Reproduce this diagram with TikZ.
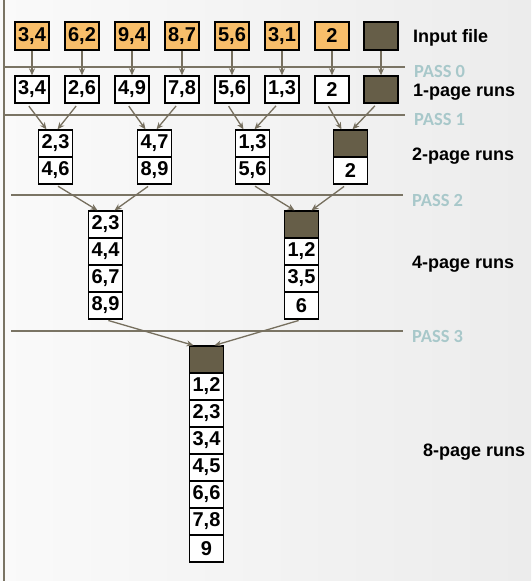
\documentclass[tikz,border=0pt]{standalone}
\usepackage{fontspec}
\setmainfont{Liberation Sans}
\newfontfamily\passfont{Carlito}
\usetikzlibrary{arrows.meta}
\definecolor{orangefill}{HTML}{F8BE6A}
\definecolor{darkfill}{HTML}{665E48}
\definecolor{arrowcol}{HTML}{766F5E}
\definecolor{linecol}{HTML}{7A7464}
\definecolor{passcol}{HTML}{A8C8CA}
\tikzset{
  cell/.style={draw=black, line width=1.3pt, minimum width=34pt, minimum height=27pt, inner sep=0pt, fill=white,
    font=\fontsize{20}{20}\selectfont\bfseries},
  incell/.style={cell, minimum height=28pt, fill=orangefill},
  darkcell/.style={cell, fill=darkfill},
  arr/.style={draw=arrowcol, line width=1.3pt, -{Stealth[length=7pt,width=6pt]}},
  passline/.style={draw=linecol, line width=2.7pt},
  passlabel/.style={anchor=west, text=passcol, inner sep=0pt, font=\passfont\fontsize{18.5}{18.5}\selectfont\bfseries},
  runlabel/.style={anchor=west, inner sep=0pt, font=\fontsize{18}{18}\selectfont\bfseries}
}
\begin{document}
\begin{tikzpicture}[x=1pt,y=-1pt]
\useasboundingbox (0,0) rectangle (531,581);
\shade[left color=gray!4, right color=gray!15] (0,0) rectangle (531,581);
% left vertical rule
\draw[draw=linecol, line width=2.5pt] (4,0) -- (4,581);
% pass lines
\coordinate (p0a) at (4,67);  \coordinate (p0b) at (405,67);
\coordinate (p1a) at (4,115); \coordinate (p1b) at (405,115);
\coordinate (p2a) at (11,195); \coordinate (p2b) at (403,195);
\coordinate (p3a) at (11,331); \coordinate (p3b) at (403,331);
\draw[passline] (p0a) -- (p0b);
\draw[passline] (p1a) -- (p1b);
\draw[passline] (p2a) -- (p2b);
\draw[passline] (p3a) -- (p3b);
\node[passlabel] (l0) at ([xshift=9pt,yshift=-4pt]p0b) {PASS 0};
\node[passlabel] (l1) at ([xshift=9pt,yshift=-4pt]p1b) {PASS 1};
\node[passlabel] (l2) at ([xshift=9pt,yshift=-5pt]p2b) {PASS 2};
\node[passlabel] (l3) at ([xshift=9pt,yshift=-5pt]p3b) {PASS 3};
% run labels
\node[runlabel] (tin) at (413,38) {Input file};
\node[runlabel] (t1) at (413,92) {1-page runs};
\node[runlabel] (t2) at (412,156) {2-page runs};
\node[runlabel] (t4) at (412,264) {4-page runs};
\node[runlabel] (t8) at (423,452) {8-page runs};
% input file
\node[incell] (in1) at (32,36) {3,4};
\node[incell] (in2) at (82,36) {6,2};
\node[incell] (in3) at (132,36) {9,4};
\node[incell] (in4) at (182,36) {8,7};
\node[incell] (in5) at (232,36) {5,6};
\node[incell] (in6) at (282,36) {3,1};
\node[incell] (in7) at (332,36) {2};
\node[darkcell, minimum height=28pt] (in8) at (381,36) {};
% 1-page runs
\node[cell] (a1) at (32,89.5) {3,4};
\node[cell] (a2) at (82,89.5) {2,6};
\node[cell] (a3) at (132,89.5) {4,9};
\node[cell] (a4) at (182,89.5) {7,8};
\node[cell] (a5) at (232,89.5) {5,6};
\node[cell] (a6) at (282,89.5) {1,3};
\node[cell] (a7) at (332,89.5) {2};
\node[darkcell] (a8) at (381,89.5) {};
\foreach \i in {1,...,8} { \draw[arr] (in\i.south) -- (a\i.north); }
% 2-page runs
\node[cell] (b1t) at (55.5,143.5) {2,3};
\node[cell] (b1b) at (55.5,170.5) {4,6};
\node[cell] (b2t) at (154.5,143.5) {4,7};
\node[cell] (b2b) at (154.5,170.5) {8,9};
\node[cell] (b3t) at (252.5,143.5) {1,3};
\node[cell] (b3b) at (252.5,170.5) {5,6};
\node[darkcell] (b4t) at (350.5,143.5) {};
\node[cell] (b4b) at (350.5,170.5) {2};
\draw[arr, shorten <=3pt] ([xshift=-5pt]a1.south) -- ([xshift=-9pt]b1t.north);
\draw[arr, shorten <=3pt] ([xshift=-4pt]a2.south) -- ([xshift=2pt]b1t.north);
\draw[arr, shorten <=3pt] ([xshift=-5pt]a3.south) -- ([xshift=-9pt]b2t.north);
\draw[arr, shorten <=3pt] ([xshift=-4pt]a4.south) -- ([xshift=2pt]b2t.north);
\draw[arr, shorten <=3pt] ([xshift=-5pt]a5.south) -- ([xshift=-9pt]b3t.north);
\draw[arr, shorten <=3pt] ([xshift=-4pt]a6.south) -- ([xshift=2pt]b3t.north);
\draw[arr, shorten <=3pt] ([xshift=-5pt]a7.south) -- ([xshift=-9pt]b4t.north);
\draw[arr, shorten <=3pt] ([xshift=-4pt]a8.south) -- ([xshift=2pt]b4t.north);
% 4-page runs
\node[cell] (c1a) at (105.5,224.5) {2,3};
\node[cell] (c1b) at (105.5,251.5) {4,4};
\node[cell] (c1c) at (105.5,278.5) {6,7};
\node[cell] (c1d) at (105.5,305.5) {8,9};
\node[darkcell] (c2a) at (301.5,224.5) {};
\node[cell] (c2b) at (301.5,251.5) {1,2};
\node[cell] (c2c) at (301.5,278.5) {3,5};
\node[cell] (c2d) at (301.5,305.5) {6};
\draw[arr, shorten <=3pt] (b1b.south) -- ([xshift=-8pt]c1a.north);
\draw[arr, shorten <=3pt] ([xshift=-4pt]b2b.south) -- ([xshift=9pt]c1a.north);
\draw[arr, shorten <=3pt] (b3b.south) -- ([xshift=-7pt]c2a.north);
\draw[arr, shorten <=3pt] ([xshift=-4pt]b4b.south) -- ([xshift=10pt]c2a.north);
% 8-page runs
\node[darkcell] (d0) at (206.5,359.5) {};
\node[cell] (d1) at (206.5,386.5) {1,2};
\node[cell] (d2) at (206.5,413.5) {2,3};
\node[cell] (d3) at (206.5,440.5) {3,4};
\node[cell] (d4) at (206.5,467.5) {4,5};
\node[cell] (d5) at (206.5,494.5) {6,6};
\node[cell] (d6) at (206.5,521.5) {7,8};
\node[cell] (d7) at (206.5,548.5) {9};
\draw[arr, shorten <=3pt] (c1d.south) -- ([xshift=-13pt]d0.north);
\draw[arr, shorten <=3pt] (c2d.south) -- ([xshift=8pt]d0.north);
\end{tikzpicture}
\end{document}
